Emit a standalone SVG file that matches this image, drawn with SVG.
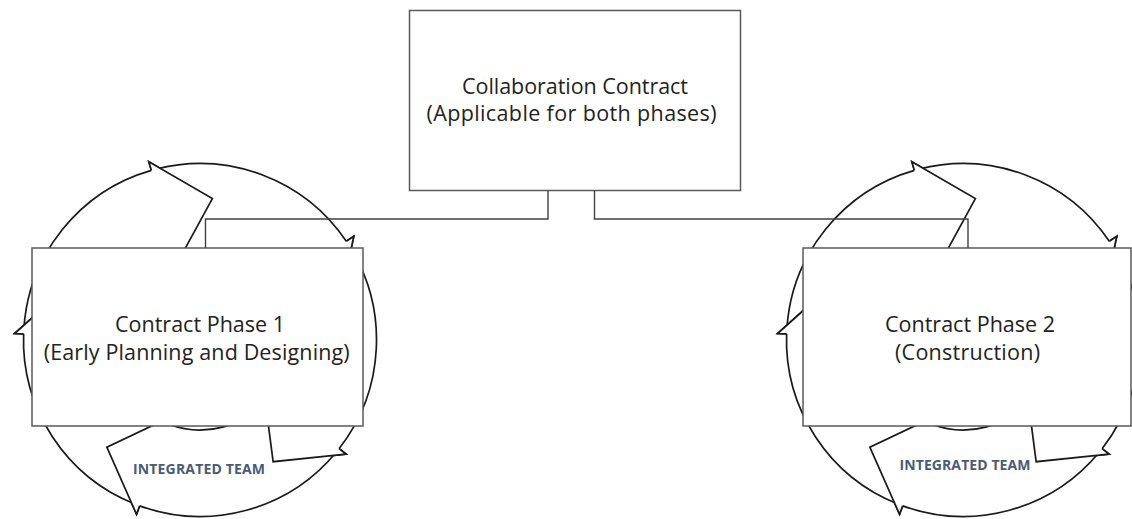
<svg xmlns="http://www.w3.org/2000/svg" xmlns:xlink="http://www.w3.org/1999/xlink" width="1132" height="519" viewBox="0 0 1132 519">
  <style>
    .box { fill: #ffffff; stroke: #595959; stroke-width: 1.5; }
    .arrow { fill: #ffffff; stroke: #1a1a1a; stroke-width: 1.7; stroke-linejoin: miter; }
    .head-fill { fill: #ffffff; stroke: none; }
    .head-edge { fill: none; stroke: #1a1a1a; stroke-width: 1.7; }
    .label { font-family: "Open Sans", "Liberation Sans", sans-serif; font-size: 21.5px; fill: #222222; text-anchor: middle; }
    .team { font-family: "Open Sans", "Liberation Sans", sans-serif; font-weight: bold; font-size: 14px; fill: #4a5a78; text-anchor: middle; }
    .link { fill: none; stroke: #404040; stroke-width: 1.4; }
  </style>
  <defs>
    <!-- one curved block arrow: band r=90..176.5, barb at 0deg, tip 21deg further clockwise -->
    <path id="arrow-body" class="arrow" d="M -166.37 -58.92 A 176.5 176.5 0 0 1 0 -176.5 L 0 -185.5 L 50.89 -132.57 L 0 -81 L 0 -90 A 90 90 0 0 0 -84.83 -30.04 Z"/>
    <!-- arrowhead redrawn on top so it covers the tail of the following arrow -->
    <g id="arrow-head">
      <path class="head-fill" d="M 0 -185.5 L 50.89 -132.57 L 0 -81 Z"/>
      <path class="head-edge" d="M 0 -176.5 L 0 -185.5 L 50.89 -132.57 L 0 -81 L 0 -90"/>
    </g>
    <!-- five-arrow cycle centred on the origin -->
    <g id="cycle">
      <use href="#arrow-body" transform="rotate(-16)"/>
      <use href="#arrow-body" transform="rotate(56)"/>
      <use href="#arrow-body" transform="rotate(128)"/>
      <use href="#arrow-body" transform="rotate(200)"/>
      <use href="#arrow-body" transform="rotate(272)"/>
      <use href="#arrow-head" transform="rotate(-16)"/>
      <use href="#arrow-head" transform="rotate(56)"/>
      <use href="#arrow-head" transform="rotate(128)"/>
      <use href="#arrow-head" transform="rotate(200)"/>
      <use href="#arrow-head" transform="rotate(272)"/>
    </g>
  </defs>

  <g id="collaboration-contract">
    <rect class="box" x="409.5" y="10.5" width="331" height="180"/>
    <text class="label" x="575" y="94" textLength="226">Collaboration Contract</text>
    <text class="label" x="571.5" y="121" textLength="290">(Applicable for both phases)</text>
  </g>

  <g id="contract-phase-1">
    <use href="#cycle" transform="translate(200,340)"/>
    <text class="team" x="199" y="474" textLength="132">INTEGRATED TEAM</text>
    <rect class="box" x="32" y="248" width="331" height="178"/>
    <text class="label" x="200" y="332" textLength="170">Contract Phase 1</text>
    <text class="label" x="196.7" y="360" textLength="306">(Early Planning and Designing)</text>
  </g>

  <g id="contract-phase-2">
    <use href="#cycle" transform="translate(963,340)"/>
    <text class="team" x="965" y="470" textLength="131">INTEGRATED TEAM</text>
    <rect class="box" x="803" y="248" width="328" height="178"/>
    <text class="label" x="970" y="332" textLength="170">Contract Phase 2</text>
    <text class="label" x="967.5" y="360" textLength="145">(Construction)</text>
  </g>

  <g id="connectors">
    <path class="link" d="M 548 190.5 V 219 H 205.5 V 248"/>
    <path class="link" d="M 594.5 190.5 V 219 H 968 V 248"/>
  </g>
</svg>
